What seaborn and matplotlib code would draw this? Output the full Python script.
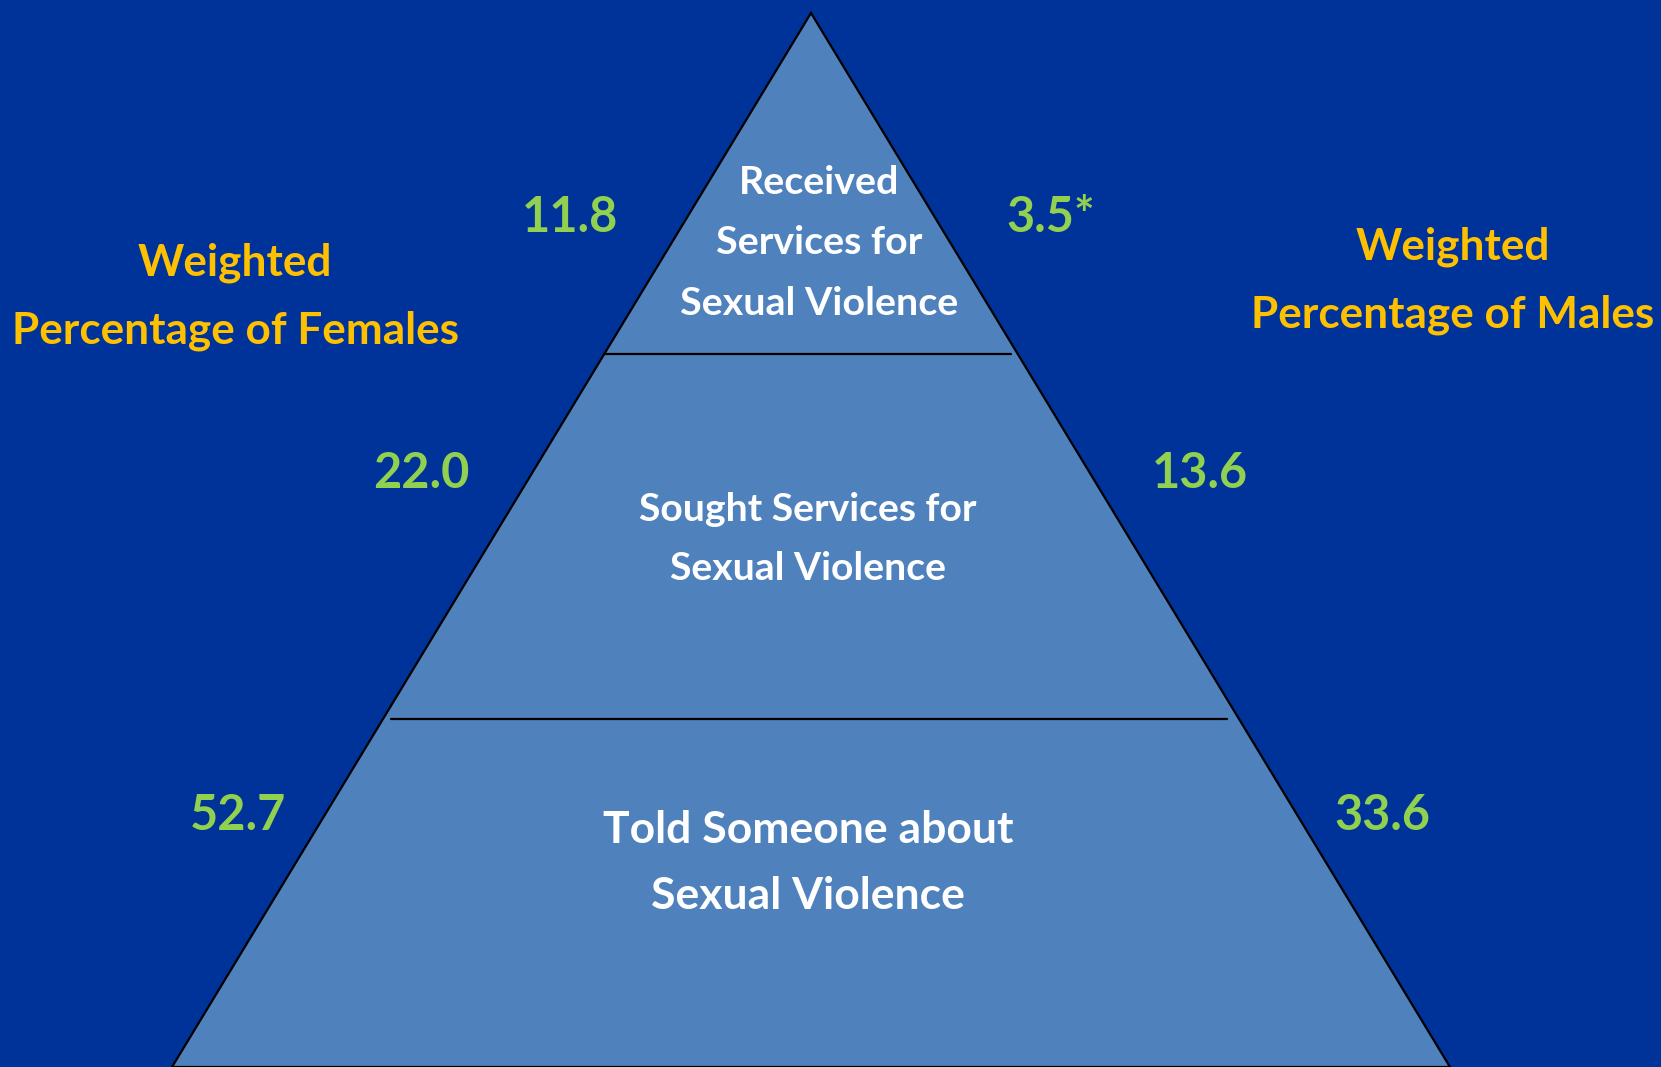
import matplotlib
matplotlib.use("Agg")
import matplotlib.pyplot as plt
from matplotlib.patches import Polygon
import seaborn as sns

# Pyramid levels, top to bottom
levels = [
    "Received\nServices for\nSexual Violence",
    "Sought Services for\nSexual Violence",
    "Told Someone about\nSexual Violence",
]
female_pct = ["11.8", "22.0", "52.7"]
male_pct = ["3.5*", "13.6", "33.6"]
left_title = "Weighted\nPercentage of Females"
right_title = "Weighted\nPercentage of Males"

BG = "#003399"
FILL = "#4F81BD"
GREEN = "#92D050"
ORANGE = "#FFC000"

sns.set_theme(style="white")
plt.rcParams["font.family"] = ["Lato", "DejaVu Sans"]

W, H = 1661, 1067
fig = plt.figure(figsize=(W / 100, H / 100), dpi=100, facecolor=BG)
ax = fig.add_axes([0, 0, 1, 1])
ax.set_facecolor(BG)
ax.set_xlim(0, W)
ax.set_ylim(H, 0)
ax.axis("off")

# triangle geometry (pixel space)
apex_x, apex_y = 811, 13
base_y = 1067
half_base = 639
ax.add_patch(Polygon([(apex_x, apex_y), (apex_x - half_base, base_y), (apex_x + half_base, base_y)],
                     closed=True, facecolor=FILL, edgecolor="black", lw=1.6, zorder=1))

# dividers between levels
dividers = [(354, 604, 1011), (719, 391, 1227)]
for y, x0, x1 in dividers:
    ax.plot([x0, x1], [y, y], color="black", lw=1.6, zorder=2)

# level labels
label_pos = [(819, 243), (808, 539), (808, 863)]
label_size = [28.4, 28.2, 32]
label_ls = [1.87, 1.84, 1.77]
for txt, (x, y), fs, ls in zip(levels, label_pos, label_size, label_ls):
    ax.text(x, y, txt, color="white", fontsize=fs, fontweight="bold",
            ha="center", va="center", linespacing=ls, zorder=3)

# percentages
f_pos = [(570, 217), (421, 473), (238, 816)]
m_pos = [(1051, 217), (1200, 473), (1382, 816)]
for v, (x, y) in zip(female_pct, f_pos):
    ax.text(x, y, v, color=GREEN, fontsize=35, fontweight="bold", ha="center", va="center")
for v, (x, y) in zip(male_pct, m_pos):
    ax.text(x, y, v, color=GREEN, fontsize=35, fontweight="bold", ha="center", va="center")

ax.text(235, 297, left_title, color=ORANGE, fontsize=31.8, fontweight="bold",
        ha="center", va="center", linespacing=1.83)
ax.text(1453, 281, right_title, color=ORANGE, fontsize=31.8, fontweight="bold",
        ha="center", va="center", linespacing=1.83)

fig.savefig("out.png", dpi=100, facecolor=BG)
